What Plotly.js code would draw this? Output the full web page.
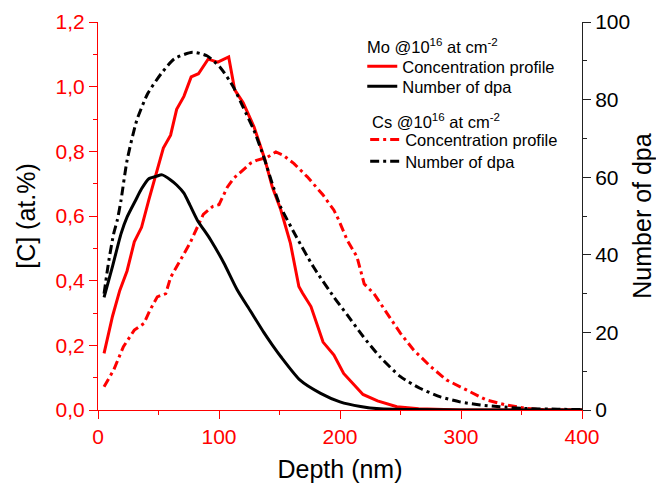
<!DOCTYPE html>
<html>
<head>
<meta charset="utf-8">
<script src="https://cdn.plot.ly/plotly-3.0.1.min.js"></script>
<style>html,body{margin:0;padding:0;background:#fff;}#chart{width:656px;height:488px;}</style>
</head>
<body>
<div id="chart"></div>
<script>
// Mo concentration profile (at.%)
var moConcDepth = [5,12,18,24,30,36,42,49,54,60,65,71,77,83,91,99,108,113,120,129,138,144,151,159,166,169,176,186,195,203,211,219,231,247,265,300,350,400];
var moConc = [0.175,0.29,0.37,0.43,0.52,0.565,0.65,0.74,0.81,0.85,0.93,0.97,1.03,1.04,1.085,1.076,1.092,0.99,0.95,0.875,0.774,0.69,0.62,0.516,0.382,0.362,0.32,0.21,0.17,0.113,0.082,0.048,0.028,0.01,0.004,0.0,0.0,0.0];
// Mo number of dpa
var moDpaDepth = [5,12,19,24,31,36,42,48,53,60,65,71,76,82,93,104,115,126,137,144,151,167,184,200,217,233,260,300,400];
var moDpa = [29,37,45.4,49.7,54,57,59.6,60.2,60.6,59.3,58,55.9,52.8,49,43.9,37.9,31,25.5,20,16.8,13.8,7.7,4.3,2.1,0.9,0.3,0.1,0,0];
// Cs concentration profile (at.%)
var csConcDepth = [5,13,21,30,38,43,49,56,60,66,71,76,87,95,100,107,112,126,131,140,147,153,162,173,186,195,199,206,214,220,228,239,250,261,275,288,299,310,321,338,354,370,400];
var csConc = [0.072,0.124,0.196,0.247,0.268,0.309,0.35,0.36,0.41,0.45,0.484,0.516,0.605,0.63,0.635,0.69,0.716,0.763,0.772,0.782,0.798,0.788,0.762,0.721,0.665,0.618,0.587,0.525,0.474,0.39,0.36,0.299,0.237,0.185,0.134,0.093,0.072,0.052,0.031,0.015,0.005,0.0,0.0];
// Cs number of dpa
var csDpaDepth = [5,9,13,16,19,24,32,41,52,63,78,90,101,112,120,129,137,145,151,164,178,195,206,219,233,250,266,283,299,316,332,351,380,400];
var csDpa = [30,38.6,45.5,49,54,64.3,74.6,81.5,86.6,90.5,92.2,91.3,88.3,83.2,78,72,65.2,57.4,52.3,44.6,36.9,29.1,24.5,19,13.7,8.6,5.6,3.4,2.1,1.3,0.85,0.4,0.2,0.1];

var xTicks = [0,100,200,300,400];
var headerMo = 'Mo @10<sup>16</sup> at cm<sup>-2</sup>';
var headerCs = 'Cs @10<sup>16</sup> at cm<sup>-2</sup>';
var seriesName1 = 'Concentration profile';
var seriesName2 = 'Number of dpa';

var RED = '#ff0000';
var dashdot = '9px,4px,3px,4px';
var FONT = 'Liberation Sans, Arial, sans-serif';

var traces = [
  {x: moConcDepth, y: moConc, name: seriesName1, mode: 'lines', yaxis: 'y', legend: 'legend',
   line: {color: RED, width: 3}},
  {x: moDpaDepth, y: moDpa, name: seriesName2, mode: 'lines', yaxis: 'y2', legend: 'legend2',
   line: {color: '#000', width: 3, shape: 'spline', smoothing: 0.6}},
  {x: csConcDepth, y: csConc, name: seriesName1, mode: 'lines', yaxis: 'y', legend: 'legend3',
   line: {color: RED, width: 3, dash: dashdot}},
  {x: csDpaDepth, y: csDpa, name: seriesName2, mode: 'lines', yaxis: 'y2', legend: 'legend4',
   line: {color: '#000', width: 3, dash: dashdot, shape: 'spline', smoothing: 0.6}}
];

function legendAt(x, y) {
  return {x: x, y: y, xanchor: 'left', yanchor: 'middle', bgcolor: 'rgba(0,0,0,0)',
    font: {family: FONT, size: 16.5, color: '#000'}, itemwidth: 30, borderwidth: 0};
}

var layout = {
  width: 656, height: 488,
  margin: {l: 97.5, r: 74, t: 22, b: 77.5},
  paper_bgcolor: '#fff', plot_bgcolor: '#fff',
  separators: ',.',
  font: {family: FONT, size: 16, color: '#000'},
  showlegend: true,
  xaxis: {
    range: [0, 400], tickvals: xTicks, ticks: 'outside', ticklen: 8, tickwidth: 1, tickcolor: RED,
    minor: {dtick: 50, ticks: 'outside', ticklen: 4, tickcolor: RED},
    showline: true, linecolor: RED, linewidth: 1, showgrid: false, zeroline: false,
    tickfont: {family: FONT, size: 21, color: RED},
    title: {text: 'Depth (nm)', font: {family: FONT, size: 25, color: '#000'}, standoff: 13}
  },
  xaxis2: {
    overlaying: 'x', side: 'top', range: [0, 400], tickvals: xTicks, ticks: 'inside', ticklen: 8,
    tickcolor: '#222', showticklabels: false,
    minor: {dtick: 50, ticks: 'inside', ticklen: 4, tickcolor: '#222'},
    showline: true, linecolor: '#222', linewidth: 1, showgrid: false, zeroline: false
  },
  yaxis: {
    range: [0, 1.2], dtick: 0.2, tickformat: '.1f', ticks: 'outside', ticklen: 8, tickcolor: RED,
    minor: {dtick: 0.1, ticks: 'outside', ticklen: 4, tickcolor: RED},
    showline: true, linecolor: RED, linewidth: 1, showgrid: false, zeroline: false,
    tickfont: {family: FONT, size: 21, color: RED},
    title: {text: '[C] (at.%)', font: {family: FONT, size: 25, color: '#000'}, standoff: 12}
  },
  yaxis2: {
    overlaying: 'y', side: 'right', range: [0, 100], dtick: 20, ticks: 'outside', ticklen: 8, tickcolor: '#222',
    minor: {dtick: 10, ticks: 'outside', ticklen: 4, tickcolor: '#222'},
    showline: true, linecolor: '#222', linewidth: 1, showgrid: false, zeroline: false,
    tickfont: {family: FONT, size: 21, color: '#000'},
    title: {text: 'Number of dpa', font: {family: FONT, size: 25, color: '#000'}, standoff: 8}
  },
  legend: legendAt(0.546, 0.885),
  legend2: legendAt(0.546, 0.8335),
  legend3: legendAt(0.552, 0.6963),
  legend4: legendAt(0.552, 0.6404),
  annotations: [
    {text: headerMo, xref: 'paper', yref: 'paper', x: 0.552, y: 0.938, xanchor: 'left', yanchor: 'middle',
     showarrow: false, font: {family: FONT, size: 16.5, color: '#000'}},
    {text: headerCs, xref: 'paper', yref: 'paper', x: 0.5624, y: 0.745, xanchor: 'left', yanchor: 'middle',
     showarrow: false, font: {family: FONT, size: 16.5, color: '#000'}}
  ]
};

Plotly.newPlot('chart', traces, layout, {displayModeBar: false, staticPlot: true});
</script>
</body>
</html>
